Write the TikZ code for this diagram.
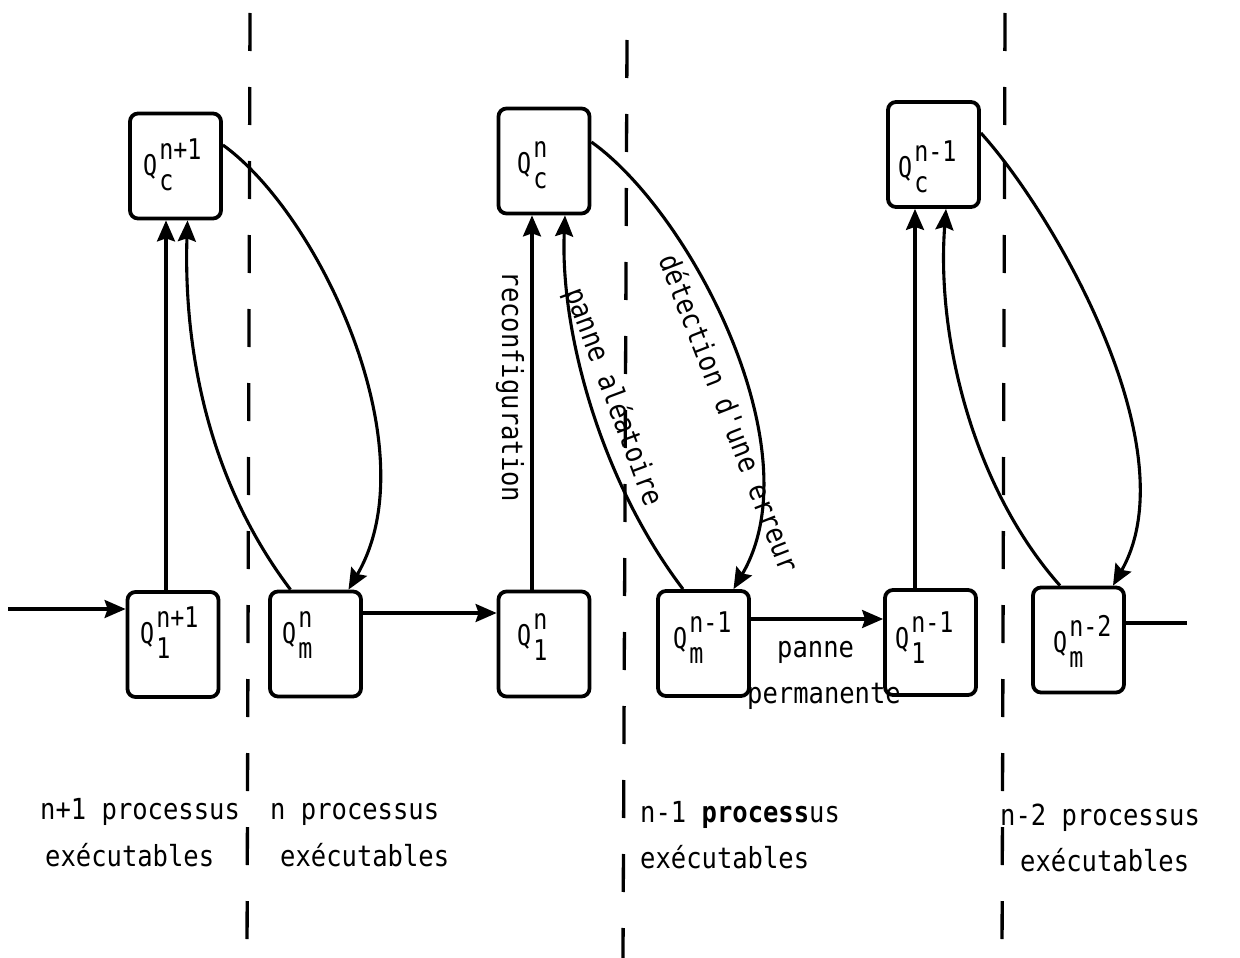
\documentclass[tikz,border=0pt]{standalone}
\usepackage{fontspec}
\setmonofont{DejaVu Sans Mono}
\newfontfamily\qfont[FakeStretch=0.82]{DejaVu Sans Mono}
\newfontfamily\notefont[FakeStretch=0.88]{DejaVu Sans Mono}
\usetikzlibrary{arrows.meta,calc}
% Q with a superscript (first argument) and a subscript (second argument)
\newcommand{\qlab}[2]{Q\kern2pt\rlap{\raisebox{16pt}{#1}}\raisebox{-15pt}{#2}}
\begin{document}
\begin{tikzpicture}[x=1pt,y=-1pt,
  state/.style={draw, line width=3.8pt, rounded corners=8pt,
    minimum width=91pt, minimum height=105pt, inner sep=0pt},
  qtext/.style={anchor=base west, inner sep=0pt,
    font=\qfont\fontsize{28.5}{31}\selectfont},
  lbl/.style={inner sep=0pt, font=\notefont\fontsize{29}{32}\selectfont},
  note/.style={lbl, anchor=base west},
  link/.style={line width=3.1pt, -{Stealth[length=21pt,width=18pt,inset=3pt]}},
  plainlink/.style={line width=3.1pt},
  sepline/.style={line width=3.3pt, dash pattern=on 38pt off 36pt}]

\useasboundingbox (0,0) rectangle (1240,958);

% separators between the numbers of runnable processes
\draw[sepline] (250,13) -- (247,958);
\draw[sepline] (627,40) -- (623,958);
\draw[sepline] (1005,13) -- (1002,958);

% states
\node[state] (qc1) at (175.5,166) {};
\node[state] (qc2) at (544,161) {};
\node[state] (qc3) at (933.5,154.5) {};
\node[state] (ql1) at (173,644.5) {};
\node[state] (qm2) at (315.5,644) {};
\node[state] (ql2) at (544,644) {};
\node[state] (qm3) at (703.5,643.5) {};
\node[state] (ql3) at (930.5,642.5) {};
\node[state] (qm4) at (1078.5,640) {};

% state names
\node[qtext] (qc1-t) at (143,175) {\qlab{n+1}{c}};
\node[qtext] (qc2-t) at (517,173) {\qlab{n}{c}};
\node[qtext] (qc3-t) at (898,177) {\qlab{n-1}{c}};
\node[qtext] (ql1-t) at (140,643) {\qlab{n+1}{1}};
\node[qtext] (qm2-t) at (282,643) {\qlab{n}{m}};
\node[qtext] (ql2-t) at (517,645) {\qlab{n}{1}};
\node[qtext] (qm3-t) at (673,648) {\qlab{n-1}{m}};
\node[qtext] (ql3-t) at (895,648) {\qlab{n-1}{1}};
\node[qtext] (qm4-t) at (1053,652) {\qlab{n-2}{m}};

% horizontal chain
\coordinate (in) at (8,609);
\coordinate (h2) at ([yshift=31pt]qm2.east);
\coordinate (h3) at ([yshift=24.5pt]qm3.east);
\coordinate (h4) at ([yshift=17pt]qm4.east);
\coordinate (out) at (1187,623);
\draw[link] (in) -- (in -| ql1.west);
\draw[link] (h2) -- (h2 -| ql2.west);
\draw[link] (h3) -- (h3 -| ql3.west);
\draw[plainlink] (h4) -- (out);

% reconfiguration: straight up to the Q_c states
\coordinate (v1) at ([xshift=-7pt]ql1.north);
\coordinate (v2) at ([xshift=-12pt]ql2.north);
\coordinate (v3) at ([xshift=-15.5pt]ql3.north);
\draw[link] (v1) -- (v1 |- qc1.south);
\draw[link] (v2) -- (v2 |- qc2.south);
\draw[link] (v3) -- (v3 |- qc3.south);

% random failures: curved, up to the Q_c states
\draw[link] ([xshift=-25pt]qm2.north) .. controls (200,470) and (184,330) .. ([xshift=12pt]qc1.south);
\draw[link] ([xshift=-20.5pt]qm3.north) .. controls (600,480) and (560,330) .. ([xshift=21pt]qc2.south);
\draw[link] ([xshift=-18.5pt]qm4.north) .. controls (975,490) and (936,340) .. ([xshift=12.5pt]qc3.south);

% error detection: from the Q_c states down to the Q_m states
\draw[link] ([yshift=21pt]qc1.east) .. controls (320,215) and (430,450) .. ([xshift=33pt]qm2.north);
\draw[link] ([yshift=19pt]qc2.east) .. controls (690,212) and (815,450) .. ([xshift=30pt]qm3.north);
\draw[link] ([yshift=21.5pt]qc3.east) .. controls (1055,215) and (1190,450) .. ([xshift=34.5pt]qm4.north);

% transition labels
\node[lbl, rotate=-90] (t-reconf) at (510,387) {reconfiguration};
\node[lbl, rotate=-69.5] (t-alea) at (613,397) {panne aléatoire};
\node[lbl, rotate=-68.7] (t-detect) at (730,413) {détection d'une erreur};
\node[note] (t-panne) at (777,657) {panne};
\node[note] (t-perm) at (747,703) {permanente};

% number of runnable processes in each zone
\node[note] (z1a) at (40,819) {n+1 processus};
\node[note] (z1b) at (45,866) {exécutables};
\node[note] (z2a) at (270,819) {n processus};
\node[note] (z2b) at (280,866) {exécutables};
\node[note] (z3a) at (640,822) {n-1 \textbf{process}us};
\node[note] (z3b) at (640,868) {exécutables};
\node[note] (z4a) at (1000,825) {n-2 processus};
\node[note] (z4b) at (1020,871) {exécutables};
\end{tikzpicture}
\end{document}
